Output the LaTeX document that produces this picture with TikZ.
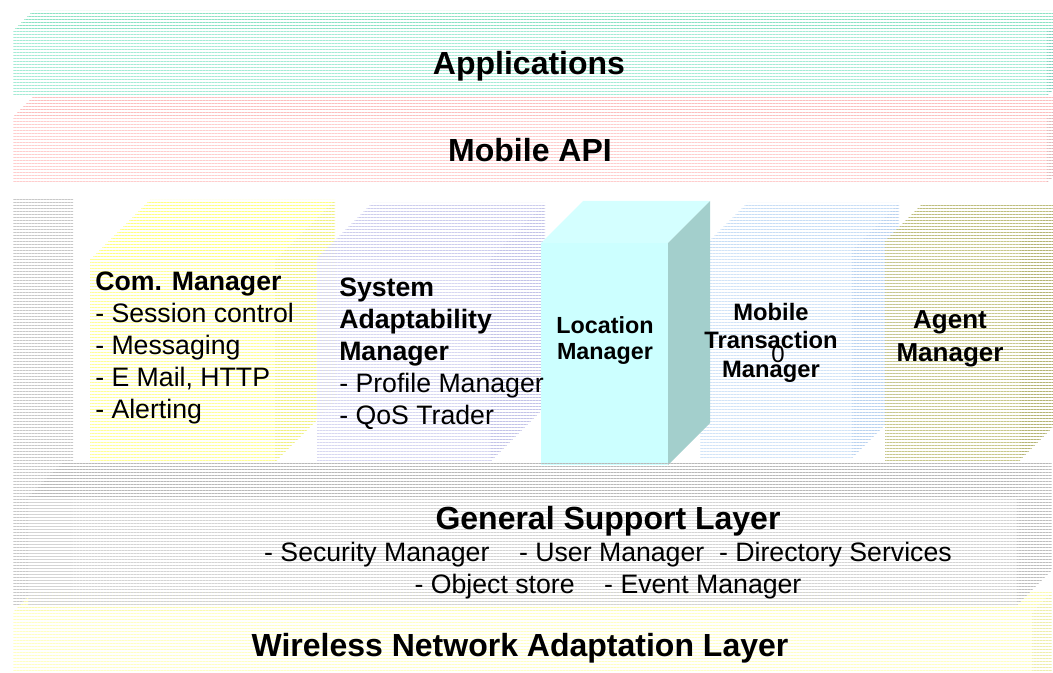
\documentclass[tikz,border=0pt]{standalone}
\usepackage{fontspec}
\setmainfont{Liberation Sans}
\usetikzlibrary{patterns.meta}
\definecolor{appF}{RGB}{165,235,213}
\definecolor{appT}{RGB}{140,226,196}
\definecolor{appS}{RGB}{130,210,190}
\definecolor{apiF}{RGB}{255,205,205}
\definecolor{apiT}{RGB}{252,190,190}
\definecolor{apiS}{RGB}{225,185,185}
\definecolor{backG}{RGB}{200,200,200}
\definecolor{comF}{RGB}{255,255,150}
\definecolor{comT}{RGB}{255,255,130}
\definecolor{comS}{RGB}{240,240,130}
\definecolor{samF}{RGB}{215,215,242}
\definecolor{samT}{RGB}{205,205,238}
\definecolor{samS}{RGB}{195,195,232}
\definecolor{locF}{RGB}{204,255,255}
\definecolor{locT}{RGB}{212,255,255}
\definecolor{locS}{RGB}{163,207,204}
\definecolor{mtmF}{RGB}{210,228,248}
\definecolor{mtmT}{RGB}{200,222,246}
\definecolor{mtmS}{RGB}{185,210,240}
\definecolor{agF}{RGB}{200,200,140}
\definecolor{agT}{RGB}{190,190,125}
\definecolor{agS}{RGB}{180,180,115}
\definecolor{gslF}{RGB}{212,212,212}
\definecolor{gslT}{RGB}{185,185,185}
\definecolor{gslS}{RGB}{190,190,190}
\definecolor{wirF}{RGB}{255,255,195}
\definecolor{wirT}{RGB}{250,250,175}
\definecolor{wirS}{RGB}{238,238,170}
\tikzset{
  hatch/.style={pattern={Lines[angle=0,distance=2.25pt,line width=0.6pt]},pattern color=#1},
  solid fill/.style={fill=#1},
  titletext/.style={font=\fontsize{24}{28}\selectfont\bfseries, inner sep=0pt, anchor=base},
  listtext/.style={font=\fontsize{20}{24}\selectfont, inner sep=0pt, align=left, anchor=north west},
  boxtitle/.style={font=\bfseries, inner sep=0pt, align=center, anchor=north},
}
% \layercube{x1}{y1}{x2}{y2}{depth}{front style}{top style}{side style}
\newcommand{\layercube}[8]{%
  \fill[#7] (#1,#2) -- ({#1+#5},{#2-#5}) -- ({#3+#5},{#2-#5}) -- (#3,#2) -- cycle;
  \fill[#8] (#3,#2) -- ({#3+#5},{#2-#5}) -- ({#3+#5},{#4-#5}) -- (#3,#4) -- cycle;
  \fill[#6] (#1,#2) rectangle (#3,#4);
}
\begin{document}
\begin{tikzpicture}[x=0.75pt,y=-0.75pt]
\useasboundingbox (0,0) rectangle (1053,673);
\clip (0,0) rectangle (1053,673);
% top layers
\layercube{13}{31}{1047}{96}{20}{hatch=appF}{hatch=appT}{hatch=appS}
\layercube{13}{117}{1047}{183}{20}{hatch=apiF}{hatch=apiT}{hatch=apiS}
% background strip of the middle layer
\fill[hatch=backG] (13,200) rectangle (73,605);
% vertical managers
\layercube{90}{260}{275}{462}{60}{hatch=comF}{hatch=comT}{hatch=comS}
\layercube{317}{258}{490}{462}{55}{hatch=samF}{hatch=samT}{hatch=samS}
\layercube{700}{250}{852}{458}{47}{hatch=mtmF}{hatch=mtmT}{hatch=mtmS}
\layercube{885}{241}{1020}{460}{36}{hatch=agF}{hatch=agT}{hatch=agS}
\layercube{541}{243}{668}{465}{42}{solid fill=locF}{solid fill=locT}{solid fill=locS}
% bottom layers
\layercube{13}{612}{1032}{700}{20}{hatch=wirF}{hatch=wirT}{hatch=wirS}
\layercube{28}{497}{1017}{605}{35}{hatch=gslF}{hatch=gslT}{hatch=gslS}
% texts
\node[titletext] (app) at (529,75) {Applications};
\node[titletext] (api) at (530,162) {Mobile API};
\node[listtext] (com) at (95,272) {\textbf{Com. Manager}\\- Session control\\- Messaging\\- E Mail, HTTP\\- Alerting};
\node[listtext] (sam) at (339,278) {\textbf{System}\\\textbf{Adaptability}\\\textbf{Manager}\\- Profile Manager\\- QoS Trader};
\node[boxtitle, font=\fontsize{17.5}{20}\selectfont\bfseries] (loc) at (605,316) {Location\\Manager};
\node[boxtitle, font=\fontsize{17.8}{21.4}\selectfont\bfseries] (mtm) at (771,303) {Mobile\\Transaction\\Manager};
\node[inner sep=0pt, font=\fontsize{18}{20}\selectfont] (zero) at (778,354) {0};
\node[boxtitle, font=\fontsize{19.5}{25}\selectfont\bfseries] (agent) at (950,310) {Agent\\Manager};
\node[titletext] (gsl) at (608,529) {General Support Layer};
\node[font=\fontsize{20}{24}\selectfont, inner sep=0pt, align=center, anchor=north] (gslitems) at (608,542)
  {- Security Manager\ \ \ \ - User Manager\ \ - Directory Services\\- Object store\ \ \ \ - Event Manager};
\node[titletext] (wnal) at (520,656) {Wireless Network Adaptation Layer};
\end{tikzpicture}
\end{document}
